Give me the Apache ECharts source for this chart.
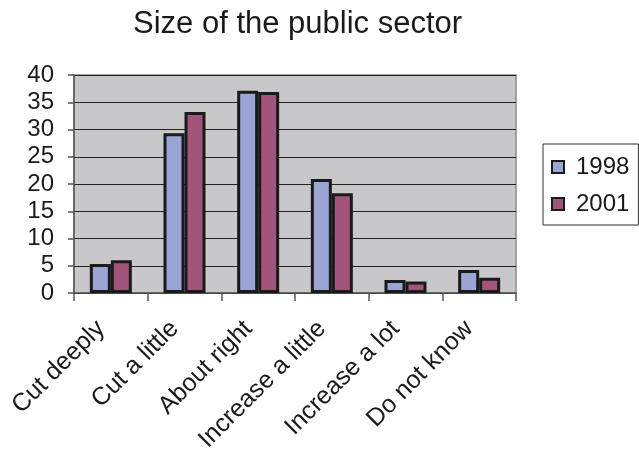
<!DOCTYPE html>
<html>
<head>
<meta charset="utf-8">
<script src="https://cdn.jsdelivr.net/npm/echarts@6/dist/echarts.min.js"></script>
<style>
  html, body { margin: 0; padding: 0; background: #ffffff; }
  #chart { width: 639px; height: 457px; }
</style>
</head>
<body>
<div id="chart"></div>
<script>
// Survey answers on the size of the public sector (percent)
const categories = ['Cut deeply', 'Cut a little', 'About right', 'Increase a little', 'Increase a lot', 'Do not know'];
const values1998 = [5.3, 29.3, 37.1, 20.9, 2.4, 4.2];
const values2001 = [6.0, 33.2, 36.9, 18.3, 2.1, 2.8];
const seriesNames = ['1998', '2001'];
const yTicks = { min: 0, max: 40, interval: 5 };

const FONT = 'Liberation Sans, Arial, sans-serif';

const chart = echarts.init(document.getElementById('chart'), null, { renderer: 'canvas' });

chart.setOption({
  animation: false,
  backgroundColor: '#ffffff',
  title: {
    text: 'Size of the public sector',
    left: 128,
    top: 4,
    textStyle: { fontFamily: FONT, fontSize: 31, fontWeight: 'normal', color: '#1a1a1a' }
  },
  legend: {
    orient: 'vertical',
    left: 543,
    top: 144,
    padding: [11, 9, 9, 8],
    itemGap: 13,
    itemWidth: 12,
    itemHeight: 12,
    itemStyle: { borderColor: '#1a1a1a', borderWidth: 2 },
    icon: 'rect',
    borderColor: '#333',
    borderWidth: 1,
    textStyle: { fontFamily: FONT, fontSize: 24, color: '#1a1a1a', padding: [0, 0, 0, 7] },
    data: seriesNames
  },
  grid: {
    left: 74,
    right: 123,
    top: 75,
    bottom: 164,
    show: true,
    backgroundColor: '#c8c8ca',
    borderColor: '#8a8a8a',
    borderWidth: 1.5,
    containLabel: false
  },
  xAxis: {
    type: 'category',
    data: categories,
    boundaryGap: true,
    axisLine: { lineStyle: { color: '#555', width: 1.5 } },
    axisTick: { show: true, alignWithLabel: false, length: 8, lineStyle: { color: '#555', width: 1.5 } },
    axisLabel: {
      rotate: 45,
      interval: 0,
      margin: 22,
      padding: [0, 14, 0, 0],
      fontFamily: FONT,
      fontSize: 25,
      color: '#1a1a1a'
    }
  },
  yAxis: {
    type: 'value',
    min: yTicks.min,
    max: yTicks.max,
    interval: yTicks.interval,
    axisLine: { show: true, lineStyle: { color: '#555', width: 1.5 } },
    axisTick: { show: true, length: 6, lineStyle: { color: '#555', width: 1.5 } },
    splitLine: { show: true, lineStyle: { color: '#222', width: 1 } },
    axisLabel: { fontFamily: FONT, fontSize: 24, color: '#1a1a1a', margin: 20 }
  },
  series: [
    {
      name: seriesNames[0],
      type: 'bar',
      data: values1998,
      barGap: '0%',
      barCategoryGap: '43%',
      itemStyle: { color: '#9aa5d4', borderColor: '#1a1a1a', borderWidth: 3 }
    },
    {
      name: seriesNames[1],
      type: 'bar',
      data: values2001,
      barGap: '0%',
      barCategoryGap: '43%',
      itemStyle: { color: '#a3547a', borderColor: '#1a1a1a', borderWidth: 3 }
    }
  ]
});
</script>
</body>
</html>
